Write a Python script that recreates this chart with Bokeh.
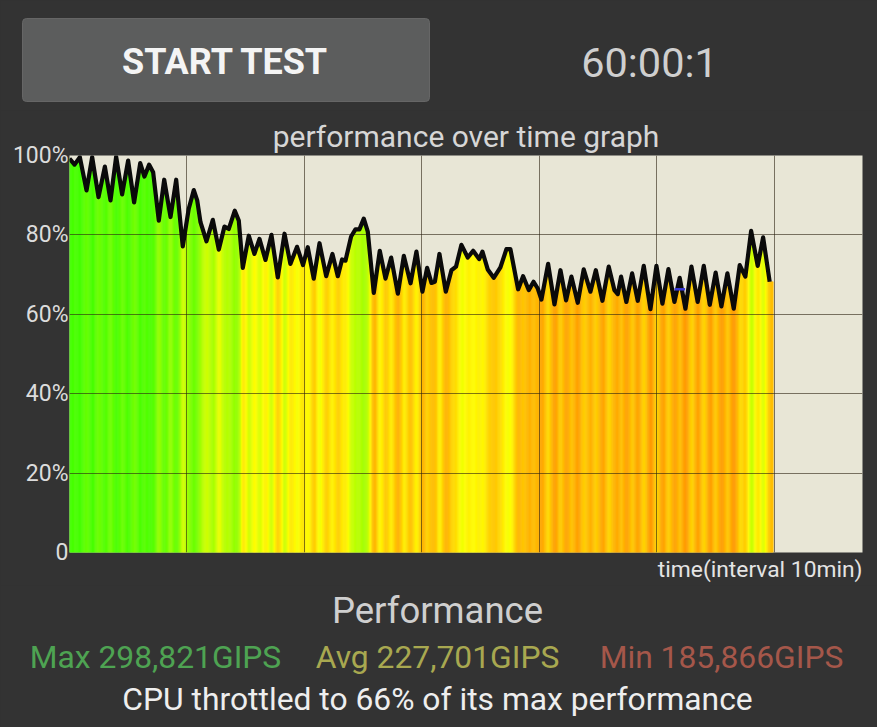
import numpy as np
from bokeh.plotting import figure
from bokeh.layouts import column
from bokeh.models import Label, FixedTicker, GlobalInlineStyleSheet, Title
from bokeh.embed import file_html
from bokeh.resources import INLINE

time_min = [0.0,0.43,0.88,1.45,1.93,2.47,3.01,3.49,3.97,4.48,4.99,5.5,6.02,6.38,6.78,7.12,7.6,8.06,8.6,9.08,9.64,10.15,10.58,10.87,11.15,11.66,12.2,12.71,13.19,13.56,14.07,14.41,14.75,15.26,15.74,16.17,16.68,17.19,17.73,18.3,18.8,
 19.37,19.88,20.28,20.79,21.28,21.85,22.38,22.84,23.2,23.49,23.97,24.34,24.68,25.05,25.39,25.9,26.41,26.9,27.38,27.95,28.46,29.03,29.53,30.04,30.44,30.81,31.1,31.49,32.03,32.51,32.9,33.36,33.9,34.36,34.87,35.15,35.6,36.11,36.68,37.19,37.53,38.19,38.61,39.09,
 39.5,39.86,40.17,40.74,41.28,41.79,42.27,42.72,43.26,43.77,44.34,44.8,45.36,45.9,46.38,46.67,46.95,47.4,47.89,48.37,48.88,49.45,49.96,50.47,50.98,51.49,51.94,52.43,52.94,53.47,53.99,54.5,55.0,55.49,56.0,56.54,57.05,57.53,58.02,58.58,59.04,59.6]
perf_pct = [99.2,97.7,99.6,91.2,99.6,89.5,97.2,88.7,99.7,90.2,98.7,88.2,98.1,94.7,97.7,95.8,83.6,93.9,84.5,93.9,77.1,86.6,91.3,88.7,83.2,78.4,83.8,76.3,82.1,81.5,86.1,83.6,71.7,79.8,75.2,79.0,73.7,80.0,69.3,80.3,72.7,
 77.0,72.4,76.9,69.0,77.9,69.6,75.2,69.6,73.8,73.5,79.6,81.4,81.4,84.1,80.8,65.4,76.0,69.0,74.3,65.2,74.7,67.8,75.8,65.7,71.7,67.9,68.2,75.2,65.7,71.1,72.0,77.5,74.3,76.0,73.9,75.8,71.3,69.2,71.8,76.4,76.4,66.3,69.6,66.1,
 68.2,66.5,63.7,72.7,62.5,71.1,63.5,69.5,62.9,71.3,65.7,71.1,63.4,72.0,66.1,65.1,69.5,63.1,70.3,63.4,72.2,61.3,72.2,62.7,71.4,63.1,69.2,61.4,72.0,63.1,72.2,62.4,70.5,62.0,70.3,61.4,72.4,69.5,81.0,72.2,79.4,68.2]
grid_times = [10, 20, 30, 40, 50, 60]
y_ticks = [0, 20, 40, 60, 80, 100]
y_labels = ["0", "20%", "40%", "60%", "80%", "100%"]
marker_times = [51.5, 52.4]
marker_vals = [66.3, 66.3]

heat_vals = [61, 63, 66, 70, 73, 76, 79, 84, 90, 100]
heat_r = [255, 255, 255, 255, 255, 255, 208, 160, 112, 64]
heat_g = [144, 156, 176, 204, 232, 255, 255, 255, 255, 255]

FONT = "Roboto"
BG = "#333333"
W = 877
TOP_H, CHART_H, BOTTOM_H = 110, 475, 142
L, R, T, B = 69, 862, 155, 552
XMAX, YMAX = 67.5, 100


def text_panel(height):
    f = figure(width=W, height=height, output_backend="svg", toolbar_location=None,
               x_range=(0, W), y_range=(height, 0), min_border=0, frame_align=False,
               background_fill_color=BG, border_fill_color=BG, outline_line_color=None)
    f.axis.visible = False
    f.grid.visible = False
    return f


def add_texts(f, items):
    for txt, px, py, size, col, style in items:
        f.add_layout(Label(x=px, y=py, text=txt, text_font=FONT, text_font_size=size, text_color=col,
                           text_align="center", text_baseline="middle", text_font_style=style))


# top strip: button and timer
top = text_panel(TOP_H)
top.quad(left=[22], right=[429], top=[18], bottom=[101], fill_color="#5c5d5d", line_color="#666666",
         border_radius=4)
add_texts(top, [("START TEST", 225, 61, "36px", "#f4f4f4", "bold"),
                ("60:00:1", 649, 62, "41.5px", "#cfcfcf", "normal")])

# chart
chart = figure(width=W, height=CHART_H, output_backend="svg", toolbar_location=None,
               x_range=(0, XMAX), y_range=(0, YMAX), frame_align=False,
               min_border_left=L, min_border_right=W - R, min_border_top=T - TOP_H,
               min_border_bottom=TOP_H + CHART_H - B,
               background_fill_color="#e8e6d6", border_fill_color=BG, outline_line_color=None)
chart.title.text = "performance over time graph"
chart.title.align = "center"
chart.title.text_font = FONT
chart.title.text_font_size = "30px"
chart.title.text_font_style = "normal"
chart.title.text_color = "#d6d6d6"
chart.title.standoff = 3
chart.add_layout(Title(text="time(interval 10min)", align="right", text_font=FONT, text_font_size="22.8px",
                       text_font_style="normal", text_color="#e4e4e4", standoff=2), "below")

# heat strip under the curve: colour follows the blurred value at each column
cols = np.arange(0, 59.85, 0.1)
vals = np.interp(cols, time_min, perf_pct)
kernel = np.ones(3) / 3
soft = np.convolve(np.pad(vals, 1, mode="edge"), kernel, mode="valid")
rs = np.interp(soft, heat_vals, heat_r).astype(int)
gs = np.interp(soft, heat_vals, heat_g).astype(int)
colors = [f"#{r:02x}{g:02x}00" for r, g in zip(rs, gs)]
heat = chart.quad(left=cols, right=cols + 0.1, bottom=0, top=vals, fill_color=colors, line_color=colors,
                  line_width=0.6)
heat.level = "image"

chart.line(time_min, perf_pct, line_color="#0a0a0a", line_width=4.2, line_join="round")
chart.line(marker_times, marker_vals, line_color="#3a3ad8", line_width=2.5)

chart.xaxis.visible = False
chart.xgrid.ticker = FixedTicker(ticks=grid_times)
chart.ygrid.ticker = FixedTicker(ticks=y_ticks)
for g in (chart.xgrid, chart.ygrid):
    g.grid_line_color = "#2c2210"
    g.grid_line_alpha = 0.6
    g.grid_line_width = 1

ax = chart.yaxis[0]
ax.ticker = FixedTicker(ticks=y_ticks)
ax.major_label_overrides = dict(zip(y_ticks, y_labels))
ax.major_label_text_color = "#dcdcdc"
ax.major_label_text_font = FONT
ax.major_label_text_font_size = "23px"
ax.major_label_standoff = -5
ax.axis_line_color = None
ax.major_tick_line_color = None
ax.minor_tick_line_color = None

# bottom strip: performance summary
bottom = text_panel(BOTTOM_H)
off = TOP_H + CHART_H
add_texts(bottom, [("Performance", 437, 610 - off, "36.5px", "#cfcfcf", "normal"),
                   ("Max 298,821GIPS", 155, 656 - off, "31.8px", "#4ea352", "normal"),
                   ("Avg 227,701GIPS", 437, 656 - off, "31.8px", "#a8a850", "normal"),
                   ("Min 185,866GIPS", 721, 656 - off, "31.8px", "#a5574a", "normal"),
                   ("CPU throttled to 66% of its max performance", 437, 698 - off, "31.8px", "#eeeeee", "normal")])

p = column(top, chart, bottom, spacing=0)
p.stylesheets = [GlobalInlineStyleSheet(css="html,body{margin:0;padding:0;background:#333333;overflow:hidden}")]

open("out.html", "w").write(file_html(p, INLINE))
